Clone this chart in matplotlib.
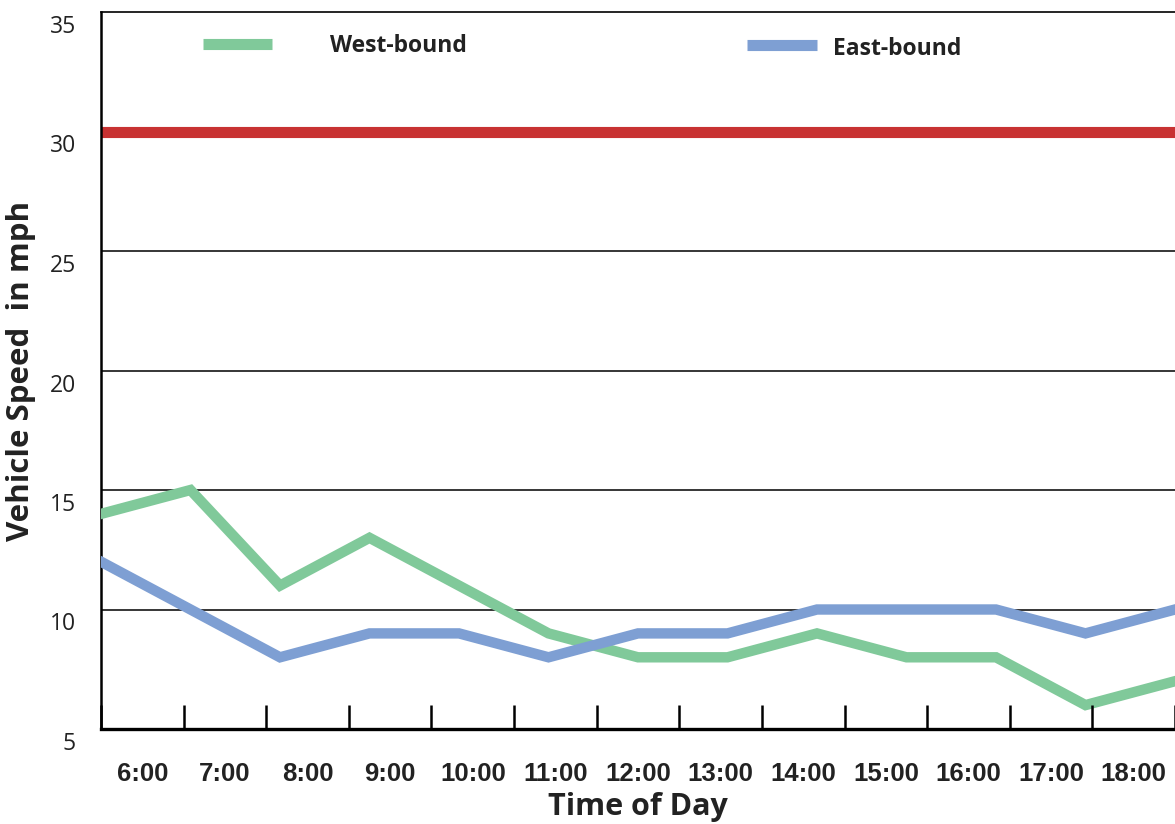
import numpy as np
import matplotlib.pyplot as plt
import matplotlib.transforms as mtransforms

# datos
hours = ['6:00', '7:00', '8:00', '9:00', '10:00', '11:00', '12:00',
         '13:00', '14:00', '15:00', '16:00', '17:00', '18:00']
west = [14, 15, 11, 13, 11, 9, 8, 8, 9, 8, 8, 6, 7]
east = [12, 10, 8, 9, 9, 8, 9, 9, 10, 10, 10, 9, 10]
speed_limit = 30
y_ticks = [5, 10, 15, 20, 25, 30, 35]

green = '#80C99A'
blue = '#7E9FD3'
red = '#C83232'

fig = plt.figure(figsize=(11.75, 8.24), dpi=100)
ax = fig.add_axes([101 / 1175, 95 / 824, 1 - 101 / 1175, 717 / 824])

# rejilla horizontal
for yv in y_ticks[1:-1]:
    ax.axhline(yv, color='black', lw=1.1, zorder=1)
ax.axhline(speed_limit, color=red, lw=8, zorder=2)

x = np.arange(len(hours))
ax.plot(x, west, color=green, lw=7.5, solid_joinstyle='miter', zorder=3)
ax.plot(x, east, color=blue, lw=7.5, solid_joinstyle='miter', zorder=3)
ax.set_xlim(0, len(hours) - 1)
ax.set_ylim(5, 35)

ax.spines['right'].set_visible(False)
ax.spines['top'].set_linewidth(1.2)
ax.spines['left'].set_linewidth(1.8)
ax.spines['bottom'].set_linewidth(2.4)
ax.set_xticks([])

ax.set_yticks(y_ticks)
ax.tick_params(axis='y', length=0, pad=18, labelsize=16.5)
off = mtransforms.ScaledTranslation(0, -12 / 100, fig.dpi_scale_trans)
for lab in ax.get_yticklabels():
    lab.set_fontfamily('Open Sans')
    lab.set_color('#222222')
    lab.set_transform(lab.get_transform() + off)

# eje de las horas (13 intervalos, etiquetas centradas)
ax2 = ax.twiny()
ax2.set_xlim(0, len(hours))
ax2.xaxis.set_ticks_position('bottom')
ax2.xaxis.set_label_position('bottom')
ax2.spines[:].set_visible(False)
ax2.set_xticks(np.arange(len(hours) + 1))
ax2.set_xticklabels([])
ax2.set_xticks(np.arange(len(hours)) + 0.5, minor=True)
ax2.set_xticklabels(hours, minor=True, fontsize=18.5, fontweight='bold',
                    fontfamily='Liberation Sans', color='#222222')
ax2.tick_params(axis='x', which='major', direction='in', length=17, width=1.8)
ax2.tick_params(axis='x', which='minor', length=0, pad=24)
ax2.set_xlabel('Time of Day', fontsize=22, fontweight='bold',
               fontfamily='Open Sans', color='#222222', labelpad=4)

ax.set_ylabel('Vehicle Speed  in mph', fontsize=22.5, fontweight='bold',
              fontfamily='Open Sans', color='#222222', va='center')
ax.yaxis.set_label_coords(-0.0745, 0.5)

# leyenda manual
ax.plot([1.14, 1.91], [33.66, 33.66], color=green, lw=8, solid_capstyle='butt', clip_on=False)
ax.text(2.56, 33.58, 'West-bound', fontsize=16.5, fontweight='bold', fontfamily='Open Sans',
        color='#222222', va='center')
ax.plot([7.22, 8.0], [33.62, 33.62], color=blue, lw=8, solid_capstyle='butt', clip_on=False)
ax.text(8.18, 33.46, 'East-bound', fontsize=16.5, fontweight='bold', fontfamily='Open Sans',
        color='#222222', va='center')

plt.savefig('out.png', dpi=100)
